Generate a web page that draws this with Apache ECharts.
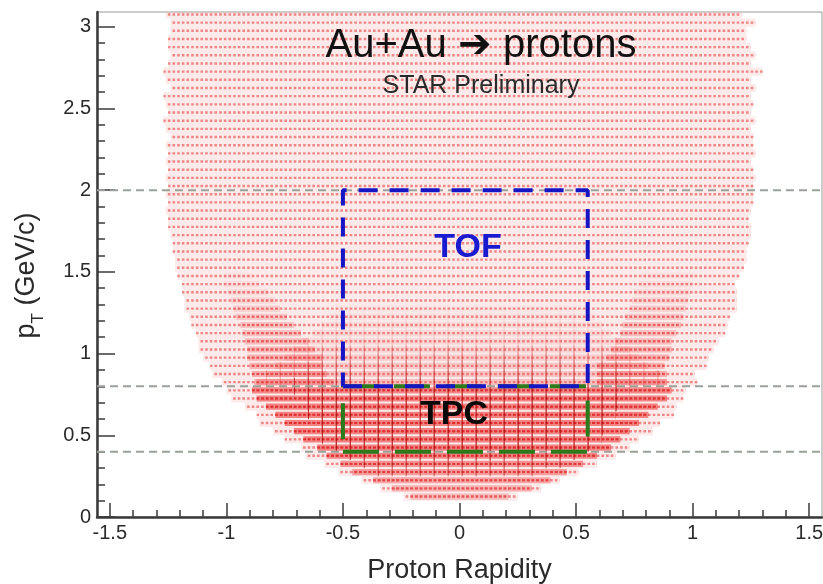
<!DOCTYPE html>
<html><head><meta charset="utf-8">
<script src="https://cdn.jsdelivr.net/npm/echarts@6/dist/echarts.min.js"></script>
<style>html,body{margin:0;padding:0;background:#fff}#c{width:823px;height:584px}</style>
</head><body><div id="c"></div>
<script>
// ---------- data ----------
const X_MIN = -1.555, X_MAX = 1.555, Y_MIN = 0, Y_MAX = 3.09;
const BIN = 0.05;          // pT bin height
const xMajor = [-1.5, -1, -0.5, 0, 0.5, 1, 1.5];
const xMinor = [-1.4,-1.3,-1.2,-1.1,-0.9,-0.8,-0.7,-0.6,-0.4,-0.3,-0.2,-0.1,0.1,0.2,0.3,0.4,0.6,0.7,0.8,0.9,1.1,1.2,1.3,1.4];
const yMajor = [0, 0.5, 1, 1.5, 2, 2.5, 3];
const yMinor = [0.1,0.2,0.3,0.4,0.6,0.7,0.8,0.9,1.1,1.2,1.3,1.4,1.6,1.7,1.8,1.9,2.1,2.2,2.3,2.4,2.6,2.7,2.8,2.9,3.0];

// full acceptance: each pT row and its rapidity extent
const rowPt = [0.125,0.175,0.225,0.275,0.325,0.375,0.425,0.475,0.525,0.575,0.625,0.675,0.725,0.775,0.825,0.875,0.925,0.975,1.025,1.075,1.125,1.175,1.225,1.275,1.325,1.375,1.425,1.475,1.525,1.575,1.625,1.675,1.725,1.775,1.825,1.875,1.925,1.975,2.025,2.075,2.125,2.175,2.225,2.275,2.325,2.375,2.425,2.475,2.525,2.575,2.625,2.675,2.725,2.775,2.825,2.875,2.925,2.975,3.025,3.075];
const rowLeft = [-0.23,-0.33,-0.41,-0.51,-0.57,-0.65,-0.67,-0.74,-0.79,-0.85,-0.86,-0.91,-0.97,-0.99,-1.01,-1.05,-1.06,-1.09,-1.11,-1.11,-1.12,-1.14,-1.15,-1.17,-1.17,-1.18,-1.18,-1.20,-1.21,-1.21,-1.22,-1.22,-1.23,-1.24,-1.24,-1.25,-1.24,-1.25,-1.24,-1.25,-1.24,-1.25,-1.24,-1.25,-1.23,-1.25,-1.26,-1.24,-1.25,-1.26,-1.23,-1.25,-1.26,-1.24,-1.23,-1.24,-1.24,-1.23,-1.23,-1.25];
const rowRight = [0.24,0.34,0.42,0.50,0.58,0.66,0.72,0.76,0.82,0.85,0.91,0.92,0.95,0.96,1.01,1.00,1.05,1.06,1.08,1.10,1.13,1.14,1.15,1.18,1.18,1.18,1.17,1.19,1.21,1.22,1.22,1.23,1.24,1.24,1.23,1.24,1.25,1.25,1.25,1.26,1.25,1.24,1.26,1.25,1.25,1.24,1.26,1.24,1.25,1.24,1.26,1.24,1.29,1.24,1.26,1.24,1.22,1.22,1.26,1.20];

// dense low-pT core (extent and relative density)
const corePt = [0.125,0.175,0.225,0.275,0.325,0.375,0.425,0.475,0.525,0.575,0.625,0.675,0.725,0.775];
const coreLeft = [-0.20,-0.28,-0.36,-0.45,-0.50,-0.56,-0.60,-0.66,-0.70,-0.74,-0.78,-0.82,-0.86,-0.88];
const coreRight = [0.20,0.30,0.38,0.45,0.52,0.58,0.64,0.68,0.72,0.76,0.80,0.84,0.88,0.90];
const coreLevel = [0.45,0.55,0.65,0.75,0.85,0.95,1,1,1,1,1,1,1,0.95];

// dark-red cross arms region
const darkPt = [0.275,0.325,0.375,0.425,0.475,0.525,0.575,0.625,0.675,0.725,0.775,0.825,0.875,0.925,0.975,1.025];
const darkLeft = [-0.35,-0.45,-0.50,-0.55,-0.58,-0.60,-0.62,-0.64,-0.66,-0.68,-0.70,-0.70,-0.68,-0.66,-0.62,-0.58];
const darkRight = [0.35,0.45,0.50,0.55,0.60,0.62,0.64,0.66,0.68,0.70,0.72,0.72,0.72,0.70,0.66,0.62];
const darkLevel = [0.6,0.7,0.85,1,1,1,1,1,1,1,0.9,0.7,0.55,0.45,0.35,0.25];

// medium density band above the core
const midPt = [0.825,0.875,0.925,0.975,1.025,1.075,1.125,1.175,1.225,1.275];
const midLeft = [-0.86,-0.82,-0.78,-0.74,-0.70,-0.66,-0.62,-0.58,-0.55,-0.52];
const midRight = [0.88,0.85,0.80,0.76,0.72,0.68,0.64,0.60,0.57,0.54];
const midLevel = [0.9,0.8,0.7,0.6,0.5,0.42,0.35,0.27,0.18,0.1];

// the two "wings"
const wingPt = [0.825,0.875,0.925,0.975,1.025,1.075,1.125,1.175,1.225,1.275,1.325,1.375,1.425,1.475];
const wingLL = [-0.87,-0.88,-0.89,-0.90,-0.90,-0.91,-0.92,-0.93,-0.95,-0.96,-0.97,-0.98,-1.00,-1.00];
const wingLR = [-0.55,-0.58,-0.60,-0.60,-0.63,-0.66,-0.69,-0.72,-0.75,-0.78,-0.80,-0.83,-0.87,-0.90];
const wingRL = [0.60,0.60,0.60,0.64,0.66,0.68,0.70,0.71,0.72,0.74,0.75,0.76,0.78,0.79];
const wingRR = [0.88,0.88,0.87,0.89,0.90,0.90,0.92,0.94,0.95,0.96,0.97,0.98,0.99,1.00];
const wingLevel = [1,1,0.95,0.9,0.85,0.8,0.72,0.65,0.55,0.45,0.36,0.28,0.2,0.14];

// cuts and boxes
const cutValues = [0.4, 0.8, 2.0];
const tofX = [-0.5, 0.55], tofPt = [0.8, 2.0];
const tpcX = [-0.5, 0.55], tpcPt = [0.4, 0.8];

// ---------- drawing ----------
const PX_PER_UNIT = 725 / (X_MAX - X_MIN);
const CELL = 0.02 * PX_PER_UNIT;

function rows(p, l, r, lv) { return p.map((v, i) => [v, l[i], r[i], lv ? lv[i] : 1]); }
function mod(a, m) { return ((a % m) + m) % m; }
function rgba(c, a) { return 'rgba(' + c[0] + ',' + c[1] + ',' + c[2] + ',' + a.toFixed(3) + ')'; }

function rowRenderer(cfg) {
  return function (params, api) {
    const pt = api.value(0), l = api.value(1), r = api.value(2), lv = api.value(3);
    const a = api.coord([l - 0.01, pt + BIN / 2]);
    const b = api.coord([r + 0.01, pt - BIN / 2]);
    const x = a[0], y = a[1], w = b[0] - a[0], h = b[1] - a[1];
    const yc = y + h / 2;
    const ch = [];
    if (cfg.fill) ch.push({ type: 'rect', shape: { x: x, y: y + (cfg.inset || 0), width: w, height: h - 2 * (cfg.inset || 0) }, style: { fill: rgba(cfg.fill, cfg.fillA * lv) } });
    if (cfg.dash) ch.push({ type: 'line', shape: { x1: x, y1: yc, x2: x + w, y2: yc }, style: { stroke: rgba(cfg.dashColor, cfg.dashA * lv), lineWidth: cfg.dashWidth, lineDash: cfg.dash, lineDashOffset: mod(x, cfg.dash[0] + cfg.dash[1]) } });
    if (cfg.vPeriod) ch.push({ type: 'line', shape: { x1: x, y1: yc, x2: x + w, y2: yc }, style: { stroke: rgba(cfg.vColor, cfg.vA * lv), lineWidth: h * cfg.vFrac, lineDash: [cfg.vWidth, cfg.vPeriod - cfg.vWidth], lineDashOffset: mod(x, cfg.vPeriod) } });
    return { type: 'group', children: ch };
  };
}
function rowSeries(data, cfg, z) {
  return { type: 'custom', data: data, encode: { x: [1, 2], y: 0 }, renderItem: rowRenderer(cfg), silent: true, z: z, clip: true };
}
function boxData(xs, ys) {
  return [[xs[0], ys[0]], [xs[1], ys[0]], [xs[1], ys[1]], [xs[0], ys[1]], [xs[0], ys[0]]];
}

const series = [
  rowSeries(rows(rowPt, rowLeft, rowRight), { fill: [246,170,170], fillA: 0.25, inset: 0, dash: [2.6, CELL - 2.6], dashColor: [236,105,105], dashA: 0.78, dashWidth: 2.4 }, 1),
  rowSeries(rows(midPt, midLeft, midRight, midLevel), { fill: [240,100,100], fillA: 0.35, inset: 1, vPeriod: CELL * 3, vWidth: 1, vColor: [220,30,30], vA: 0.45, vFrac: 1 }, 2),
  rowSeries(rows(wingPt, wingLL, wingLR, wingLevel), { fill: [240,90,90], fillA: 0.4, inset: 1, dash: [3, CELL - 3], dashColor: [225,40,40], dashA: 0.5, dashWidth: 2 }, 2),
  rowSeries(rows(wingPt, wingRL, wingRR, wingLevel), { fill: [240,90,90], fillA: 0.4, inset: 1, dash: [3, CELL - 3], dashColor: [225,40,40], dashA: 0.5, dashWidth: 2 }, 2),
  rowSeries(rows(corePt, coreLeft, coreRight, coreLevel), { fill: [238,70,70], fillA: 0.62, inset: 1, dash: [3, CELL - 3], dashColor: [215,25,25], dashA: 0.7, dashWidth: 2 }, 3),
  rowSeries(rows(darkPt, darkLeft, darkRight, darkLevel), { vPeriod: CELL * 3, vWidth: 1.3, vColor: [170,0,0], vA: 0.7, vFrac: 1.05 }, 4)
];
cutValues.forEach(v => series.push({
  type: 'line', data: [[X_MIN, v], [X_MAX, v]], symbol: 'none', silent: true, z: 6,
  lineStyle: { color: '#99a399', width: 2, type: [8, 5] }
}));
series.push({ type: 'line', data: boxData(tpcX, tpcPt), symbol: 'none', silent: true, z: 7,
  lineStyle: { color: '#2b7a1b', width: 4, type: [36, 16] } });
series.push({ type: 'line', data: boxData(tofX, tofPt), symbol: 'none', silent: true, z: 8,
  lineStyle: { color: '#1515c4', width: 4, type: [19, 12] } });

const FONT = '"Liberation Sans", Arial, Helvetica, sans-serif';
const fmt = v => String(Math.round(v * 10) / 10);
const AX = '#3a3a3a';

const option = {
  animation: false,
  backgroundColor: '#fff',
  grid: { left: 97, right: 1, top: 12, bottom: 67, show: true, borderColor: '#9a9a9a', borderWidth: 1, containLabel: false, outerBoundsMode: 'none' },
  xAxis: [{
    type: 'value', min: X_MIN, max: X_MAX, position: 'bottom',
    axisLine: { show: true, onZero: false, lineStyle: { color: AX, width: 2.5 } },
    axisTick: { show: true, inside: true, length: 14, customValues: xMajor, lineStyle: { color: AX, width: 1.5 } },
    axisLabel: { show: true, customValues: xMajor, formatter: fmt, fontSize: 20, color: '#2a2a2a', margin: 6, fontFamily: FONT },
    splitLine: { show: false },
    name: 'Proton Rapidity', nameLocation: 'middle', nameGap: 40,
    nameTextStyle: { fontSize: 27, color: '#2a2a2a', fontFamily: FONT }
  }, {
    type: 'value', min: X_MIN, max: X_MAX, position: 'bottom', gridIndex: 0,
    axisLine: { show: false, onZero: false },
    axisTick: { show: true, inside: true, length: 7, customValues: xMinor, lineStyle: { color: AX, width: 1.5 } },
    axisLabel: { show: false }, splitLine: { show: false }
  }],
  yAxis: [{
    type: 'value', min: Y_MIN, max: Y_MAX, position: 'left',
    axisLine: { show: true, onZero: false, lineStyle: { color: AX, width: 2.5 } },
    axisTick: { show: true, inside: true, length: 18, customValues: yMajor, lineStyle: { color: AX, width: 1.5 } },
    axisLabel: { show: true, customValues: yMajor, formatter: fmt, fontSize: 20, color: '#2a2a2a', margin: 6, fontFamily: FONT },
    splitLine: { show: false },
    name: '{p|p}{t|T}{r| (GeV/c)}', nameLocation: 'middle', nameGap: 50, nameRotate: 90,
    nameTextStyle: {
      padding: [0, 22, 0, 0],
      rich: {
        p: { fontSize: 27, color: '#2a2a2a', fontFamily: FONT, lineHeight: 40, verticalAlign: 'middle' },
        t: { fontSize: 17, color: '#2a2a2a', fontFamily: FONT, lineHeight: 40, verticalAlign: 'bottom' },
        r: { fontSize: 27, color: '#2a2a2a', fontFamily: FONT, lineHeight: 40, verticalAlign: 'middle' }
      }
    }
  }, {
    type: 'value', min: Y_MIN, max: Y_MAX, position: 'left', gridIndex: 0,
    axisLine: { show: false, onZero: false },
    axisTick: { show: true, inside: true, length: 8, customValues: yMinor, lineStyle: { color: AX, width: 1.5 } },
    axisLabel: { show: false }, splitLine: { show: false }
  }],
  series: series,
  graphic: [
    { type: 'text', z: 100, style: { text: 'Au+Au \u2794 protons', x: 481, y: 66, textAlign: 'center', textVerticalAlign: 'bottom', font: '40px ' + FONT, fill: '#111' } },
    { type: 'text', z: 100, style: { text: 'STAR Preliminary', x: 481, y: 99, textAlign: 'center', textVerticalAlign: 'bottom', font: '25px ' + FONT, fill: '#2a2a2a' } },
    { type: 'text', z: 100, style: { text: 'TOF', x: 468, y: 265, textAlign: 'center', textVerticalAlign: 'bottom', font: 'bold 34px ' + FONT, fill: '#1a1ad0' } },
    { type: 'text', z: 100, style: { text: 'TPC', x: 454, y: 432, textAlign: 'center', textVerticalAlign: 'bottom', font: 'bold 34px ' + FONT, fill: '#080808' } }
  ]
};
const chart = echarts.init(document.getElementById('c'), null, { renderer: 'canvas' });
chart.setOption(option);
</script>
</body></html>
